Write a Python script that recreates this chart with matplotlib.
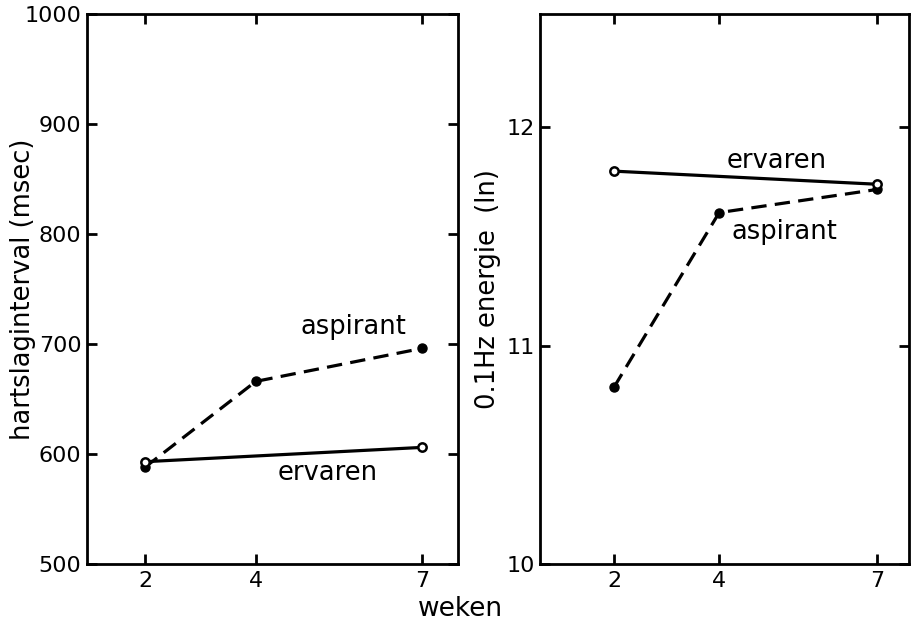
import matplotlib
matplotlib.use("Agg")
import matplotlib.pyplot as plt

# Data
weeks_asp = [2, 4, 7]
weeks_erv = [2, 7]
hr_aspirant = [588, 666, 696]
hr_ervaren = [593, 606]
en_aspirant = [10.81, 11.61, 11.716]
en_ervaren = [11.80, 11.74]
xticks = [2, 4, 7]
hr_yticks = [500, 600, 700, 800, 900, 1000]
en_yticks = [10, 11, 12]

plt.rcParams['font.family'] = ['DejaVu Sans']
W, H = 914, 622
fig = plt.figure(figsize=(W / 100, H / 100), dpi=100)

def frac(x0, x1, ytop, ybot):
    return [x0 / W, 1 - ybot / H, (x1 - x0) / W, (ybot - ytop) / H]

axL = fig.add_axes(frac(87, 458, 14, 564))
axR = fig.add_axes(frac(540, 909, 14, 564))

dash = (0, (4.8, 2.6))
lw = 2.3
fs = 18.5

def style(ax):
    for s in ax.spines.values():
        s.set_linewidth(2.0)
        s.set_color('black')
    ax.tick_params(direction='in', length=7, width=2.0, top=True, right=True,
                   labelsize=16, colors='black')
    ax.tick_params(axis='x', pad=5)
    ax.tick_params(axis='y', pad=4)
    ax.set_xticks(xticks)
    ax.set_xticklabels([str(t) for t in xticks])

# Left panel
axL.plot(weeks_asp, hr_aspirant, color='black', lw=lw, linestyle=dash,
         marker='o', markersize=6.5, markerfacecolor='black', zorder=3)
axL.plot(weeks_erv, hr_ervaren, color='black', lw=lw, linestyle='-',
         marker='o', markersize=6, markerfacecolor='white', markeredgewidth=1.8, zorder=4)
axL.set_xlim(0.953, 7.65)
axL.set_ylim(500, 1000)
axL.set_yticks(hr_yticks)
style(axL)
axL.set_ylabel('hartslaginterval (msec)', fontsize=fs)
axL.yaxis.set_label_coords(-0.137, 0.5)
axL.text(5.77, 715, 'aspirant', fontsize=fs, ha='center', va='center')
axL.text(5.3, 583, 'ervaren', fontsize=fs, ha='center', va='center')

# Right panel
axR.plot(weeks_asp, en_aspirant, color='black', lw=lw, linestyle=dash,
         marker='o', markersize=6.5, markerfacecolor='black', zorder=3)
axR.plot(weeks_erv, en_ervaren, color='black', lw=lw, linestyle='-',
         marker='o', markersize=6, markerfacecolor='white', markeredgewidth=1.8, zorder=4)
axR.set_xlim(0.593, 7.61)
axR.set_ylim(10, 12.52)
axR.set_yticks(en_yticks)
style(axR)
axR.set_ylabel('0.1Hz energie  (ln)', fontsize=fs)
axR.yaxis.set_label_coords(-0.105, 0.5)
axR.text(5.1, 11.845, 'ervaren', fontsize=fs, ha='center', va='center')
axR.text(5.25, 11.52, 'aspirant', fontsize=fs, ha='center', va='center')

fig.text(460 / W, 1 - 609 / H, 'weken', fontsize=19, ha='center', va='center')

fig.savefig('out.png', dpi=100)
